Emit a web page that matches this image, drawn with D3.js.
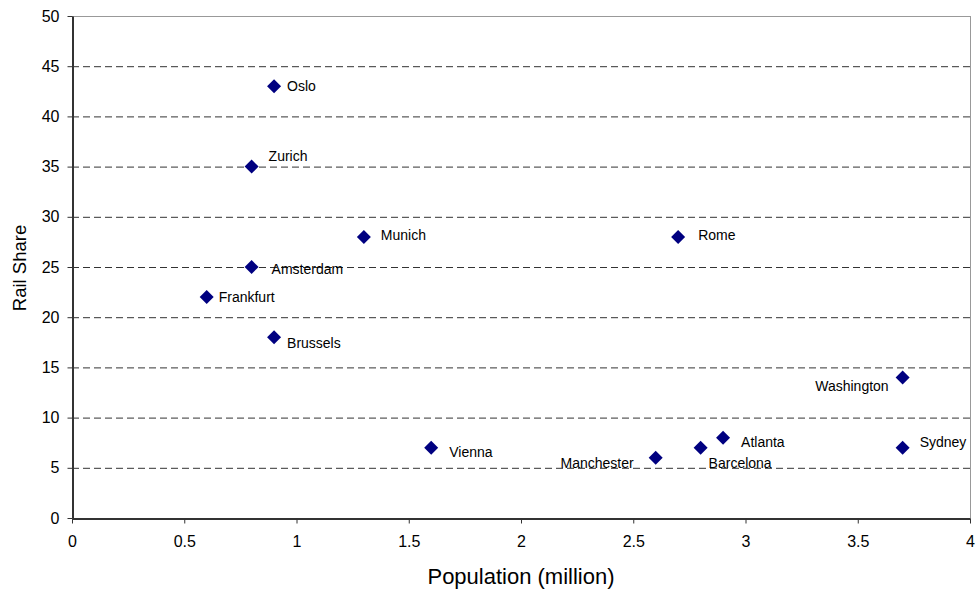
<!DOCTYPE html>
<html><head><meta charset="utf-8">
<script src="https://cdn.jsdelivr.net/npm/d3@7"></script>
<style>body{margin:0;background:#fff;}svg{display:block;font-family:Arial,"Liberation Sans",sans-serif;}</style>
</head><body>
<svg id="c" width="976" height="590"></svg>
<script>
const cities = ["Oslo","Zurich","Munich","Rome","Amsterdam","Frankfurt","Brussels","Washington","Vienna","Manchester","Barcelona","Atlanta","Sydney"];
const population = [0.9,0.8,1.3,2.7,0.8,0.6,0.9,3.7,1.6,2.6,2.8,2.9,3.7];
const railShare = [43,35,28,28,25,22,18,14,7,6,7,8,7];
const xTicks = [0,0.5,1,1.5,2,2.5,3,3.5,4];
const yTicks = [0,5,10,15,20,25,30,35,40,45,50];
// label placement: [dx, dy(center), anchor]
const labelPos = {
  Oslo:[13,0,"start"], Zurich:[17,-11,"start"], Munich:[17,-2,"start"], Rome:[20,-2,"start"],
  Amsterdam:[20,2,"start"], Frankfurt:[12,0,"start"], Brussels:[13,6,"start"],
  Washington:[-14,9,"end"], Vienna:[18,4,"start"], Manchester:[-22,5,"end"],
  Barcelona:[8,15,"start"], Atlanta:[18,4,"start"], Sydney:[17,-6,"start"]
};
const svg = d3.select("#c");
const L=72,R=970,T=16,B=518;
const x = d3.scaleLinear().domain([0,4]).range([L,R]);
const y = d3.scaleLinear().domain([0,50]).range([B,T]);
// gridlines
svg.append("g").selectAll("line").data(yTicks.filter(d=>d>0&&d<50)).join("line")
  .attr("x1",L).attr("x2",R).attr("y1",d=>y(d)+0.5).attr("y2",d=>y(d)+0.5)
  .attr("stroke","#333").attr("stroke-dasharray","7,4").attr("stroke-width",1);
// frame top/right
svg.append("line").attr("x1",L).attr("x2",R).attr("y1",T+0.5).attr("y2",T+0.5).attr("stroke","#999");
svg.append("line").attr("x1",R+0.5).attr("x2",R+0.5).attr("y1",T).attr("y2",B).attr("stroke","#999");
// axes
const xa = svg.append("g").attr("transform",`translate(0,${B+0.5})`)
  .call(d3.axisBottom(x).tickValues(xTicks).tickSize(5).tickSizeOuter(0).tickFormat(d3.format("")));
const ya = svg.append("g").attr("transform",`translate(${L+0.5},0)`)
  .call(d3.axisLeft(y).tickValues(yTicks).tickSize(5).tickSizeOuter(0));
[xa,ya].forEach(a=>{
  a.select(".domain").attr("stroke","#333").attr("stroke-width",2);
  a.selectAll(".tick line").attr("stroke","#333");
  a.selectAll(".tick text").attr("font-size",16).attr("fill","#000").attr("font-family","Arial,'Liberation Sans',sans-serif");
});
xa.selectAll(".tick text").attr("dy","1.28em");
ya.selectAll(".tick text").attr("dx","-5");
// titles
svg.append("text").attr("x",521).attr("y",584).attr("text-anchor","middle").attr("font-size",22).text("Population (million)");
svg.append("text").attr("transform","translate(26,268) rotate(-90)").attr("text-anchor","middle").attr("font-size",18.5).text("Rail Share");
// points
const sym = d3.symbol().type(d3.symbolSquare).size(98);
const g = svg.append("g");
cities.forEach((c,i)=>{
  const px=x(population[i]), py=y(railShare[i]);
  g.append("path").attr("d",sym()).attr("fill","#000080")
    .attr("transform",`translate(${px},${py}) rotate(45)`);
  const p=labelPos[c];
  g.append("text").attr("x",px+p[0]).attr("y",py+p[1]+5).attr("text-anchor",p[2])
    .attr("font-size",14).attr("fill","#000").text(c);
});
</script>
</body></html>
